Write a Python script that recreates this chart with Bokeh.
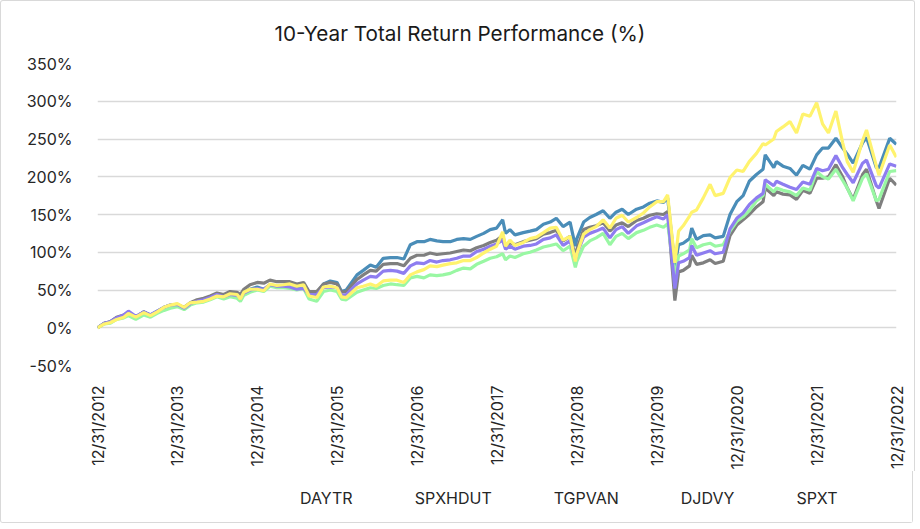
import pandas as pd
from math import pi
from bokeh.plotting import figure
from bokeh.layouts import column
from bokeh.models import (Range1d, FixedTicker, DatetimeTickFormatter, PrintfTickFormatter,
                          Legend, LegendItem)
from bokeh.embed import file_html
from bokeh.resources import INLINE

# ---------------- data (values in %) ----------------
dates = [
    "2012-12-31", "2013-01-31", "2013-02-28", "2013-03-28", "2013-04-30", "2013-05-21", "2013-06-24",
    "2013-07-31", "2013-08-30", "2013-09-30", "2013-10-31", "2013-11-29", "2013-12-31",
    "2014-01-31", "2014-02-28", "2014-03-31", "2014-04-30", "2014-05-30", "2014-06-30", "2014-07-31",
    "2014-08-29", "2014-09-30", "2014-10-15", "2014-10-31", "2014-11-28", "2014-12-31",
    "2015-01-30", "2015-02-27", "2015-03-31", "2015-04-30", "2015-05-29", "2015-06-30", "2015-07-31",
    "2015-08-25", "2015-09-29", "2015-10-30", "2015-11-30", "2015-12-31",
    "2016-01-20", "2016-02-11", "2016-03-31", "2016-04-29", "2016-05-31", "2016-06-27", "2016-07-29",
    "2016-08-31", "2016-09-30", "2016-10-31", "2016-11-30", "2016-12-30",
    "2017-01-31", "2017-02-28", "2017-03-31", "2017-04-28", "2017-05-31", "2017-06-30", "2017-07-31",
    "2017-08-31", "2017-09-29", "2017-10-31", "2017-11-30", "2017-12-29",
    "2018-01-26", "2018-02-08", "2018-02-28", "2018-03-23", "2018-04-30", "2018-05-31", "2018-06-29",
    "2018-07-31", "2018-08-31", "2018-09-28", "2018-10-29", "2018-11-30", "2018-12-24", "2018-12-31",
    "2019-01-31", "2019-02-28", "2019-03-29", "2019-04-30", "2019-05-31", "2019-06-28", "2019-07-26",
    "2019-08-23", "2019-09-30", "2019-10-31", "2019-11-29", "2019-12-31",
    "2020-01-31", "2020-02-19", "2020-03-23", "2020-04-09", "2020-04-30", "2020-05-29", "2020-06-08",
    "2020-06-30", "2020-07-31", "2020-08-31", "2020-09-23", "2020-10-30", "2020-11-30", "2020-12-31",
    "2021-01-29", "2021-02-26", "2021-03-31", "2021-04-30", "2021-05-10", "2021-06-18", "2021-06-30",
    "2021-07-30", "2021-08-31", "2021-09-30", "2021-10-29", "2021-11-30", "2021-12-31",
    "2022-01-27", "2022-02-23", "2022-03-29", "2022-04-29", "2022-05-20", "2022-06-16", "2022-07-29",
    "2022-08-16", "2022-09-30", "2022-10-12", "2022-11-30", "2022-12-30",
]

daytr = [
    0, 6, 8, 13, 16, 21, 14, 21, 17, 22, 27, 30, 31,
    26, 32, 35, 37, 40, 44, 42, 45, 44, 40, 47, 51, 54,
    51, 57, 55, 56, 56, 52, 55, 45, 46, 58, 62, 60,
    48, 50, 70, 76, 83, 80, 92, 93, 93, 91, 110, 114,
    114, 117, 115, 114, 114, 117, 118, 117, 121, 125, 130, 132,
    143, 125, 130, 123, 126, 128, 130, 137, 140, 145, 134, 140, 108, 118,
    140, 146, 150, 155, 145, 153, 157, 150, 157, 160, 165, 168,
    166, 172, 82, 110, 112, 118, 132, 117, 122, 123, 119, 121, 150, 167,
    175, 194, 203, 210, 229, 212, 220, 214, 211, 202, 215, 210, 229,
    238, 238, 251, 238, 230, 218, 245, 252, 212, 212, 251, 243,
]

spxhdut = [
    0, 6, 8, 14, 17, 20, 14, 21, 16, 21, 26, 29, 30,
    27, 33, 37, 39, 42, 46, 44, 48, 47, 44, 51, 57, 60,
    59, 63, 61, 61, 61, 58, 60, 48, 48, 58, 60, 58,
    47, 48, 64, 70, 76, 75, 84, 85, 85, 82, 92, 96,
    96, 99, 97, 98, 99, 101, 103, 102, 106, 109, 113, 116,
    122, 108, 113, 110, 114, 116, 118, 124, 126, 129, 115, 121, 95, 104,
    130, 133, 135, 139, 128, 136, 139, 134, 142, 145, 149, 151,
    150, 154, 36, 74, 76, 82, 96, 84, 86, 90, 85, 88, 122, 136,
    143, 150, 160, 167, 185, 175, 180, 177, 176, 170, 182, 178, 198,
    198, 200, 216, 200, 185, 170, 203, 210, 168, 158, 198, 189,
]

tgpvan = [
    0, 5, 6, 11, 13, 16, 11, 17, 14, 19, 23, 26, 28,
    24, 30, 33, 34, 37, 41, 38, 41, 39, 35, 43, 47, 50,
    48, 55, 53, 53, 52, 50, 52, 38, 35, 48, 50, 48,
    38, 37, 47, 50, 53, 52, 56, 58, 57, 56, 66, 68,
    66, 70, 69, 70, 72, 76, 79, 78, 84, 88, 92, 94,
    98, 90, 95, 93, 98, 100, 103, 107, 109, 111, 102, 108, 80, 88,
    108, 115, 119, 125, 110, 121, 125, 118, 126, 129, 133, 136,
    133, 138, 68, 95, 98, 103, 118, 106, 110, 112, 108, 110, 128, 141,
    147, 155, 168, 175, 190, 180, 185, 182, 180, 175, 185, 182, 207,
    200, 197, 210, 195, 185, 168, 198, 204, 168, 170, 207, 208,
]

djdvy = [
    0, 6, 8, 13, 17, 22, 15, 21, 17, 22, 27, 30, 31,
    26, 32, 35, 37, 40, 44, 41, 44, 43, 39, 46, 50, 52,
    51, 57, 55, 55, 54, 51, 52, 44, 44, 53, 54, 53,
    43, 44, 58, 63, 68, 67, 75, 76, 75, 72, 82, 86,
    85, 89, 87, 89, 90, 92, 95, 95, 101, 104, 108, 111,
    116, 104, 108, 104, 108, 109, 111, 117, 119, 123, 109, 115, 90, 98,
    120, 125, 128, 132, 119, 130, 134, 125, 135, 139, 143, 147,
    144, 150, 52, 86, 88, 93, 109, 96, 99, 102, 98, 100, 131, 145,
    152, 163, 172, 178, 196, 188, 194, 190, 186, 183, 193, 190, 211,
    208, 210, 228, 212, 203, 192, 218, 222, 188, 185, 217, 214,
]

spxt = [
    0, 5, 7, 11, 14, 19, 14, 20, 16, 21, 27, 30, 32,
    27, 33, 34, 35, 38, 42, 41, 45, 44, 38, 47, 51, 51,
    49, 58, 56, 57, 58, 55, 57, 42, 40, 54, 55, 53,
    41, 40, 53, 55, 58, 55, 62, 63, 63, 60, 70, 74,
    77, 82, 81, 83, 85, 86, 89, 89, 93, 99, 104, 108,
    127, 108, 116, 109, 113, 118, 120, 126, 132, 133, 116, 121, 88, 98,
    124, 130, 134, 143, 132, 145, 149, 140, 146, 152, 160, 167,
    167, 176, 86, 128, 135, 148, 153, 156, 172, 190, 175, 178, 199, 209,
    207, 220, 231, 244, 242, 250, 260, 266, 273, 258, 283, 280, 298,
    270, 258, 287, 245, 220, 206, 248, 262, 214, 202, 242, 226,
]

series_names = ["DAYTR", "SPXHDUT", "TGPVAN", "DJDVY", "SPXT"]
series_values = [daytr, spxhdut, tgpvan, djdvy, spxt]
series_colors = ["#4A8DB8", "#7F7F7F", "#99F7A3", "#8E7DF0", "#FFF36E"]

tick_dates = ["2012-12-31", "2013-12-31", "2014-12-31", "2015-12-31", "2016-12-31", "2017-12-31",
              "2018-12-31", "2019-12-31", "2020-12-31", "2021-12-31", "2022-12-31"]
y_ticks = [-50, 0, 50, 100, 150, 200, 250, 300, 350]

title_text = "10-Year Total Return Performance (%)"

# ---------------- main figure ----------------
FONT = "Inter"
BORDER = "1px solid #D9D9D9"
x = pd.to_datetime(dates)
tick_ms = [pd.Timestamp(d).value // 10**6 for d in tick_dates]

p = figure(
    frame_width=797, frame_height=301,
    x_axis_type="datetime",
    x_range=Range1d(start=pd.Timestamp(tick_dates[0]), end=pd.Timestamp(tick_dates[-1])),
    y_range=Range1d(start=y_ticks[0], end=y_ticks[-1]),
    output_backend="svg", toolbar_location=None,
    min_border_left=96, min_border_right=20, min_border_top=60, min_border_bottom=104,
    styles={"border-top": BORDER, "border-left": BORDER, "border-right": BORDER,
            "border-top-left-radius": "3px", "border-top-right-radius": "3px",
            "box-sizing": "border-box"},
)

p.title.text = title_text
p.title.align = "left"
p.title.offset = 177
p.title.text_font = FONT
p.title.text_font_size = "20.7px"
p.title.text_font_style = "normal"
p.title.text_color = "#1A1A1A"
p.title.standoff = 35

p.outline_line_color = None
p.background_fill_color = "white"
p.border_fill_color = "white"

p.xgrid.grid_line_color = None
p.ygrid.grid_line_color = "#D9D9D9"
p.ygrid.grid_line_width = 1.5

p.yaxis.ticker = FixedTicker(ticks=y_ticks)
p.yaxis.formatter = PrintfTickFormatter(format="%d%%")
p.xaxis.ticker = FixedTicker(ticks=tick_ms)
p.xaxis.formatter = DatetimeTickFormatter(days="%m/%d/%Y", months="%m/%d/%Y", years="%m/%d/%Y")
p.xaxis.major_label_orientation = pi / 2

for ax in (p.xaxis[0], p.yaxis[0]):
    ax.axis_line_color = None
    ax.major_tick_line_color = None
    ax.minor_tick_line_color = None
    ax.major_label_text_font = FONT
    ax.major_label_text_font_size = "16px"
    ax.major_label_text_color = "#262626"
p.yaxis.major_label_standoff = 19
p.xaxis.major_label_standoff = 14

for name, vals, col in zip(series_names, series_values, series_colors):
    p.line(x, vals, line_color=col, line_width=3.2)

# ---------------- legend strip (separate figure so the legend is not clipped) ----------------
lf = figure(
    width=913, height=52,
    x_range=Range1d(0, 1), y_range=Range1d(0, 1),
    x_axis_location=None, y_axis_location=None,
    output_backend="svg", toolbar_location=None,
    min_border_left=0, min_border_right=0, min_border_top=0, min_border_bottom=0,
    styles={"border-bottom": BORDER, "border-left": BORDER, "border-right": BORDER,
            "border-bottom-left-radius": "3px", "border-bottom-right-radius": "3px",
            "box-sizing": "border-box"},
)
lf.xgrid.grid_line_color = None
lf.ygrid.grid_line_color = None
lf.outline_line_color = None
lf.background_fill_color = "white"
lf.border_fill_color = "white"

legend_renderers = [lf.line([], [], line_color=col, line_width=3.2) for col in series_colors]
legend = Legend(
    items=[LegendItem(label=n, renderers=[r]) for n, r in zip(series_names, legend_renderers)],
    orientation="horizontal",
    location=(163, 15),
    glyph_width=37, glyph_height=16, label_standoff=3, spacing=22,
    padding=0, margin=0,
    label_text_font=FONT, label_text_font_size="16px", label_text_color="#262626",
    border_line_color=None, background_fill_alpha=0,
)
lf.add_layout(legend)

layout = column(p, lf, spacing=0)

open("out.html", "w").write(file_html(layout, INLINE))
